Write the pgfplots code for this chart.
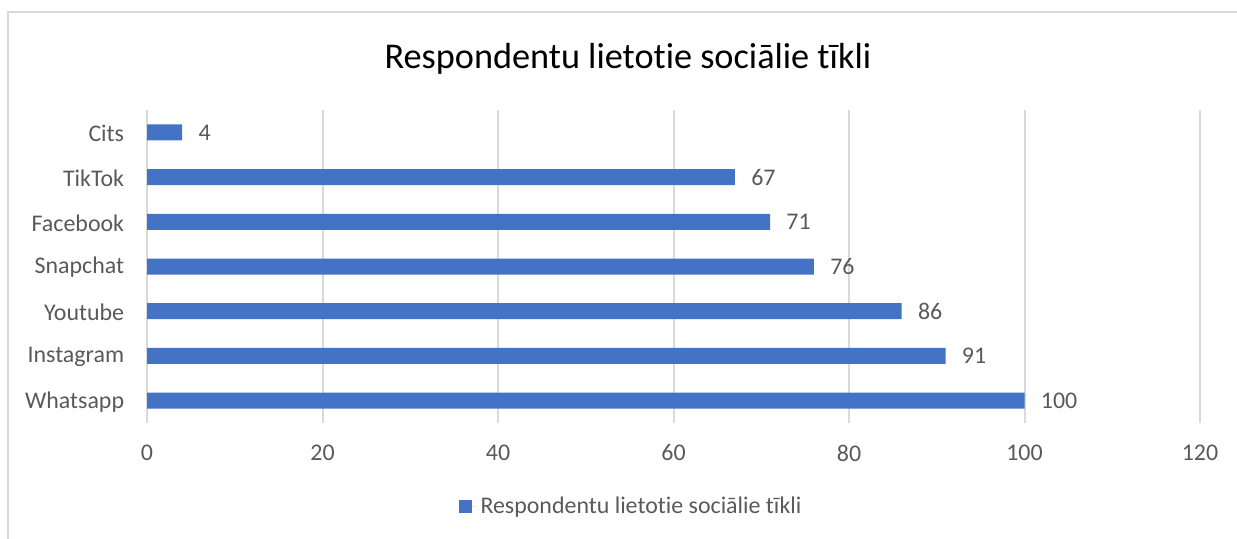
\documentclass[border=0pt]{standalone}
\usepackage{fontspec}
\setmainfont{Carlito}[Ligatures=NoCommon]
\usepackage{pgfplots}
\pgfplotsset{compat=1.18}
\definecolor{barblue}{HTML}{4472C4}
\definecolor{txtgray}{HTML}{595959}
\definecolor{gridgray}{HTML}{D9D9D9}
\begin{document}
\begin{tikzpicture}
\path[use as bounding box] (0,0) rectangle (618.5bp,269.5bp);
\draw[gridgray, line width=1bp] (4bp,-10bp) -- (4bp,263.5bp) -- (640bp,263.5bp);
\node[font=\fontsize{18.2}{21}\selectfont, text=black] at (314bp,240bp) {Respondentu lietotie sociālie tīkli};
\begin{axis}[
  at={(73.5bp,58bp)}, anchor=south west,
  width=526.5bp, height=156.5bp, scale only axis,
  xbar, bar width=8bp,
  xmin=0, xmax=120, ymin=-0.5, ymax=6.5,
  xtick={0,20,...,120},
  ytick={0,...,6},
  yticklabels={Whatsapp,Instagram,Youtube,Snapchat,Facebook,TikTok,Cits},
  axis line style={draw=none},
  tick style={draw=none},
  xmajorgrids, major grid style={gridgray, line width=1bp},
  ymajorgrids=false,
  /pgf/number format/assume math mode=true,
  tick label style={font=\fontsize{12}{14}\selectfont, text=txtgray},
  xticklabel style={anchor=center, inner sep=0pt, yshift=-15bp},
  yticklabel style={anchor=east, inner sep=0pt, xshift=-7bp, yshift=-0.5bp},
  nodes near coords,
  every node near coord/.append style={anchor=west, inner sep=0pt, xshift=8bp, font=\fontsize{12}{14}\selectfont, text=txtgray, /pgf/number format/assume math mode=true},
  legend style={at={(0.4606,-0.268)}, anchor=center, draw=none, fill=none, legend columns=-1,
    font=\fontsize{12}{14}\selectfont, text=txtgray},
  legend image code/.code={\fill[barblue] (0bp,-3.25bp) rectangle (6.5bp,3.25bp); \path (0bp,0bp) -- (9bp,0bp);},
  clip=false,
]
\addplot[fill=barblue, draw=none] coordinates {
 (100,0) (91,1) (86,2) (76,3) (71,4) (67,5) (4,6)
};
\addlegendentry{Respondentu lietotie sociālie tīkli}
\end{axis}
\end{tikzpicture}
\end{document}
